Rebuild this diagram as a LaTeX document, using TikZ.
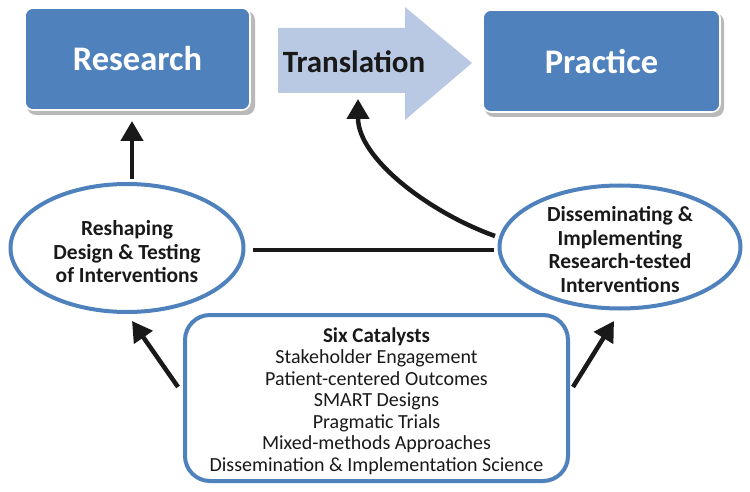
\documentclass[tikz,border=0pt]{standalone}
\usepackage{fontspec}
\setmainfont{Carlito}
\usetikzlibrary{arrows.meta,shapes.geometric}
\definecolor{ofblue}{RGB}{79,129,189}
\definecolor{lightblue}{RGB}{185,201,228}
\definecolor{ink}{RGB}{25,25,25}
\begin{document}
\begin{tikzpicture}[x=1pt,y=-1pt,
  bigbox/.style={rectangle, fill=ofblue, draw=white, line width=1.6pt, rounded corners=8pt, inner sep=0pt,
     font=\fontsize{34.5}{40}\selectfont\bfseries, text=white},
  shadowbox/.style={fill=black!50, opacity=0.55, rounded corners=9pt},
  oval/.style={ellipse, draw=ofblue, line width=4pt, fill=white, inner sep=0pt},
  ovaltext/.style={inner sep=0pt, align=center, font=\fontsize{21.5}{23.5}\selectfont\bfseries, text=ink},
  catbox/.style={rectangle, draw=ofblue, line width=4pt, fill=white, rounded corners=25pt, inner sep=0pt},
  cattext/.style={inner sep=0pt, align=center, font=\fontsize{20}{21.5}\selectfont, text=ink},
  conn/.style={draw=ink, line width=4.5pt},
  arr/.style={conn, -{Triangle[width=22pt,length=20pt]}},
]
\useasboundingbox (0,0) rectangle (750,492);
% shadows
\fill[shadowbox] (27,11) rectangle (255,115);
\fill[shadowbox] (485,13) rectangle (724,117);
% top boxes
\node[bigbox, minimum width=225pt, minimum height=102pt] (research) at (137.5,59) {Research};
\node[bigbox, minimum width=237pt, minimum height=102pt] (practice) at (601.5,61) {Practice};
% translation arrow
\fill[lightblue] (278,28) -- (405,28) -- (405,7) -- (472,63) -- (405,120) -- (405,93) -- (278,93) -- cycle;
\node[font=\fontsize{31}{36}\selectfont\bfseries, text=ink, inner sep=0pt] (transl) at (354,62) {Translation};
% ellipses
\node[oval, minimum width=233pt, minimum height=128pt] (reshape) at (127,248) {};
\node[ovaltext] (reshapetext) at (127,252) {Reshaping\\Design \& Testing\\of Interventions};
\node[oval, minimum width=241pt, minimum height=123pt] (disse) at (620,247) {};
\node[ovaltext] (dissetext) at (620,249.5) {Disseminating \&\\Implementing\\Research-tested\\Interventions};
% catalysts box
\node[catbox, minimum width=383pt, minimum height=166pt] (cat) at (376.5,398) {};
\node[cattext] (cattxt) at (376.5,401)
  {{\fontsize{21}{21.5}\selectfont\bfseries Six Catalysts}\\Stakeholder Engagement\\Patient-centered Outcomes\\SMART Designs\\Pragmatic Trials\\Mixed-methods Approaches\\Dissemination \& Implementation Science};
% connector coordinates
\coordinate (rtip) at (132,121);
\coordinate (rstart) at (132,179);
\coordinate (ttip) at (358,99);
\coordinate (cstart) at (495,236);
\coordinate (lltail) at (178,387);
\coordinate (lltip) at (132,321);
\coordinate (lrtail) at (573,387);
\coordinate (lrtip) at (614,321);
\coordinate (hl) at (253,250);
\coordinate (hr) at (494,250);
% connectors
\draw[arr] (rstart) -- (rtip);
\draw[conn] (hl) -- (hr);
\draw[arr] (cstart) .. controls (428,212) and (358,158) .. (ttip);
\draw[arr] (lltail) -- (lltip);
\draw[arr] (lrtail) -- (lrtip);
\end{tikzpicture}
\end{document}
